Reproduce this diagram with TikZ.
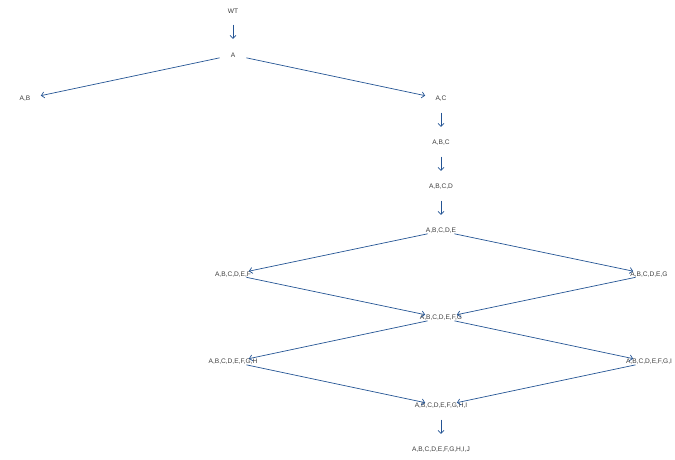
\documentclass[tikz,border=0pt]{standalone}
\usepackage{fontspec}
\setmainfont{Liberation Sans}
\usetikzlibrary{arrows.meta}
\definecolor{edgeblue}{RGB}{36,84,148}
\definecolor{labelgray}{RGB}{60,60,60}
\newcommand\zlbl[1]{\raisebox{-1.8pt}{\makebox[0pt][c]{#1}}}
\tikzset{
  st/.style={circle, minimum size=27pt, inner sep=0pt, text=labelgray,
    font=\fontsize{6.6}{7}\selectfont},
  edge/.style={draw=edgeblue, line width=0.7pt, shorten >=2.5pt,
    -{Straight Barb[length=3pt,width=6pt]}}
}
\begin{document}
\begin{tikzpicture}[x=1pt,y=-1pt]
\useasboundingbox (0,0) rectangle (675,459);
\node[st] (wt)   at (233,11)  {\zlbl{WT}};
\node[st] (a)    at (233,55)  {\zlbl{A}};
\node[st] (ab)   at (25,99)   {\zlbl{A,B}};
\node[st] (ac)   at (441,99)  {\zlbl{A,C}};
\node[st] (abc)  at (441,143) {\zlbl{A,B,C}};
\node[st] (abcd) at (441,187) {\zlbl{A,B,C,D}};
\node[st] (e)    at (441,231) {\zlbl{A,B,C,D,E}};
\node[st] (f)    at (233,274.5) {\zlbl{A,B,C,D,E,F}};
\node[st] (g)    at (649,274.5) {\zlbl{A,B,C,D,E,G}};
\node[st] (fg)   at (441,318) {\zlbl{A,B,C,D,E,F,G}};
\node[st] (h)    at (233,362) {\zlbl{A,B,C,D,E,F,G,H}};
\node[st] (i)    at (649,362) {\zlbl{A,B,C,D,E,F,G,I}};
\node[st] (hi)   at (441,406) {\zlbl{A,B,C,D,E,F,G,H,I}};
\node[st] (j)    at (441,450) {\zlbl{A,B,C,D,E,F,G,H,I,J}};
\draw[edge] (wt) -- (a);
\draw[edge] (a) -- (ab);
\draw[edge] (a) -- (ac);
\draw[edge] (ac) -- (abc);
\draw[edge] (abc) -- (abcd);
\draw[edge] (abcd) -- (e);
\draw[edge] (e) -- (f);
\draw[edge] (e) -- (g);
\draw[edge] (f) -- (fg);
\draw[edge] (g) -- (fg);
\draw[edge] (fg) -- (h);
\draw[edge] (fg) -- (i);
\draw[edge] (h) -- (hi);
\draw[edge] (i) -- (hi);
\draw[edge] (hi) -- (j);
\end{tikzpicture}
\end{document}
